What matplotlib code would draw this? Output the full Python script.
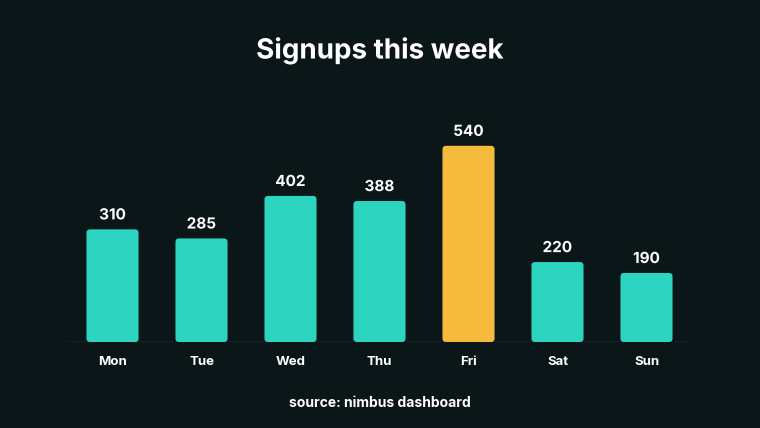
import matplotlib
matplotlib.use("Agg")
import matplotlib.pyplot as plt
import matplotlib.patheffects as pe
from matplotlib.patches import FancyBboxPatch

days = ["Mon", "Tue", "Wed", "Thu", "Fri", "Sat", "Sun"]
signups = [310, 285, 402, 388, 540, 220, 190]
highlight = "Fri"

BG = "#0b1619"
TEAL = "#2dd4bf"
AMBER = "#f6bb3d"

plt.rcParams['font.family'] = ['Inter', 'DejaVu Sans']

fig = plt.figure(figsize=(7.6, 4.28), dpi=100, facecolor=BG)
ax = fig.add_axes([68/760, 86/428, 623/760, 218/428], facecolor=BG)

colors = [AMBER if d == highlight else TEAL for d in days]
bars = ax.bar(range(len(days)), signups, width=0.585, color=colors)
ax.set_xlim(-0.5, len(days) - 0.5)
ax.set_ylim(0, 600)

# round the corners (aspect: data units per pixel in y vs x)
aspect = (600 / 218) / (7 / 623)
for b in bars:
    x, y = b.get_x(), b.get_y()
    w, h = b.get_width(), b.get_height()
    b.set_visible(False)
    r = FancyBboxPatch((x, y), w, h, boxstyle="round,pad=0,rounding_size=0.04",
                       mutation_aspect=aspect,
                       facecolor=b.get_facecolor(), edgecolor="none")
    ax.add_patch(r)

stroke = [pe.withStroke(linewidth=3, foreground=BG)]
for i, v in enumerate(signups):
    ax.annotate(str(v), (i, v), xytext=(0, 5), textcoords="offset points",
                ha="center", va="bottom", color="white", fontsize=11,
                fontweight="bold", path_effects=stroke)

for s in ax.spines.values():
    s.set_visible(False)
ax.axhline(0, color="#414d50", linewidth=1, zorder=0.5)
ax.set_yticks([])
ax.set_xticks(range(len(days)))
ax.set_xticklabels(days, color="white", fontsize=9.5, fontweight="bold")
ax.tick_params(axis="x", length=0, pad=10)

fig.text(0.5, 1 - 51/428, "Signups this week", ha="center", va="center",
         color="white", fontsize=20, fontweight="bold", path_effects=stroke)
fig.text(0.5, 1 - 403/428, "source: nimbus dashboard", ha="center", va="center",
         color="white", fontsize=10, fontweight="bold")

fig.savefig("out.png", dpi=100, facecolor=BG)
